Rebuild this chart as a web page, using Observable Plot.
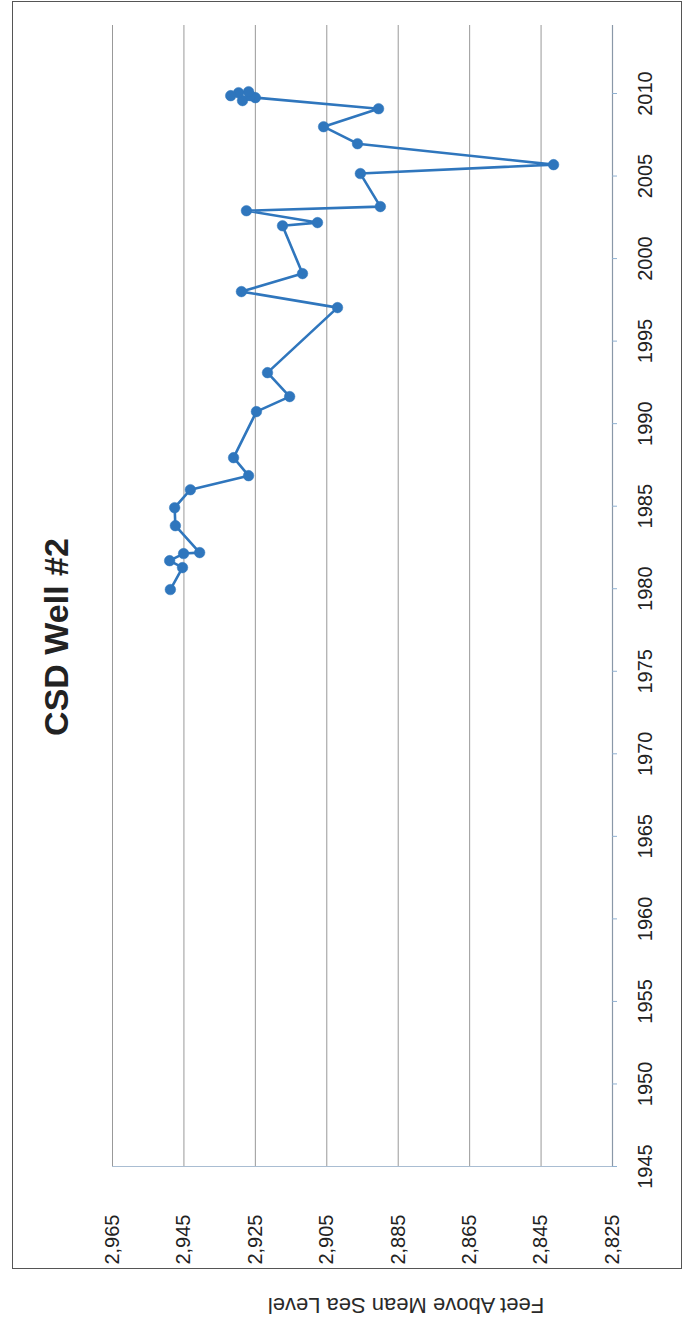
<!DOCTYPE html>
<html>
<head>
<meta charset="utf-8">
<script src="https://cdn.jsdelivr.net/npm/d3@7"></script>
<script src="https://cdn.jsdelivr.net/npm/@observablehq/plot@0.6"></script>
<style>
  html, body { margin: 0; padding: 0; background: #fff; }
  #page { position: relative; width: 685px; height: 1330px; overflow: hidden; background: #fff; }
  #rot { position: absolute; left: 0; top: 0; width: 1330px; height: 685px;
         transform-origin: 0 0; transform: translate(0px, 1330px) rotate(-90deg); }
  #rot svg { position: absolute; left: 0; top: 0; }
  #frame { position: absolute; left: 61px; top: 12px; width: 1266px; height: 668px;
           border: 1.5px solid #555; }
  #title { position: absolute; left: 493px; top: 36px; width: 400px; text-align: center;
           font: bold 34px "Liberation Sans", Arial, sans-serif; color: #222; line-height: 40px; }
  #ylabel { position: absolute; left: -175px; top: 393px; width: 400px; height: 26px; line-height: 26px;
            text-align: center; transform: rotate(-90deg); transform-origin: 50% 50%;
            font: 22px "Liberation Sans", Arial, sans-serif; color: #2a2a2a; }
</style>
</head>
<body>
<div id="page">
  <div id="rot">
    <div id="frame"></div>
    <div id="title">CSD Well #2</div>
    <div id="ylabel">Feet Above Mean Sea Level</div>
  </div>
</div>
<script>
// Measurement dates (decimal years) and water level (feet above mean sea level)
const years = [1979.95, 1981.28, 1981.7, 1982.13, 1982.19, 1983.82, 1984.91, 1986.0, 1986.85, 1987.94,
               1990.73, 1991.64, 1993.09, 1997.03, 1998.0, 1999.09, 2001.99, 2002.18, 2002.9, 2003.15,
               2005.15, 2005.69, 2006.96, 2007.99, 2009.08, 2009.75, 2009.57, 2009.87, 2010.11, 2010.05, 2009.87];
const levels = [2948.8, 2945.4, 2949.0, 2945.1, 2940.6, 2947.4, 2947.6, 2943.2, 2926.9, 2931.1,
                2924.7, 2915.4, 2921.6, 2902.0, 2928.9, 2911.8, 2917.4, 2907.6, 2927.5, 2890.0,
                2895.6, 2841.5, 2896.4, 2905.9, 2890.5, 2925.0, 2928.6, 2926.4, 2926.9, 2929.7, 2931.9];
const yearTicks = [1945, 1950, 1955, 1960, 1965, 1970, 1975, 1980, 1985, 1990, 1995, 2000, 2005, 2010];
const levelTicks = [2825, 2845, 2865, 2885, 2905, 2925, 2945, 2965];

const data = years.map((y, i) => ({year: y, level: levels[i]}));
const blue = "#2f76bd";

const chart = Plot.plot({
  width: 1330,
  height: 685,
  marginTop: 112,
  marginBottom: 73,
  marginLeft: 163,
  marginRight: 25,
  style: {fontFamily: "'Liberation Sans', Arial, sans-serif", fontSize: "20px", color: "#222", background: "transparent"},
  x: {domain: [1945, 2014.18]},
  y: {domain: [2825, 2965]},
  marks: [
    Plot.ruleY(levelTicks.filter(d => d > 2825), {x1: 1945, x2: 2014.18, stroke: "#999999", strokeWidth: 1}),
    Plot.ruleY([2825], {x1: 1945, x2: 2014.18, stroke: "#8a98a8", strokeWidth: 1.2}),
    Plot.ruleX([1945], {y1: 2825, y2: 2965, stroke: "#a9bdd2", strokeWidth: 1.2}),
    Plot.axisX({ticks: yearTicks, tickFormat: d => String(d), tickSize: 5, tickPadding: 20, stroke: "#8fb0d0", label: null, fontSize: 20}),
    Plot.axisY({ticks: levelTicks, tickFormat: d3.format(","), tickSize: 0, tickPadding: 48, label: null, fontSize: 20}),
    Plot.line(data, {x: "year", y: "level", stroke: blue, strokeWidth: 2.6}),
    Plot.dot(data, {x: "year", y: "level", r: 5.3, fill: blue, stroke: blue, strokeWidth: 0.5})
  ]
});
document.getElementById("rot").appendChild(chart);
</script>
</body>
</html>
